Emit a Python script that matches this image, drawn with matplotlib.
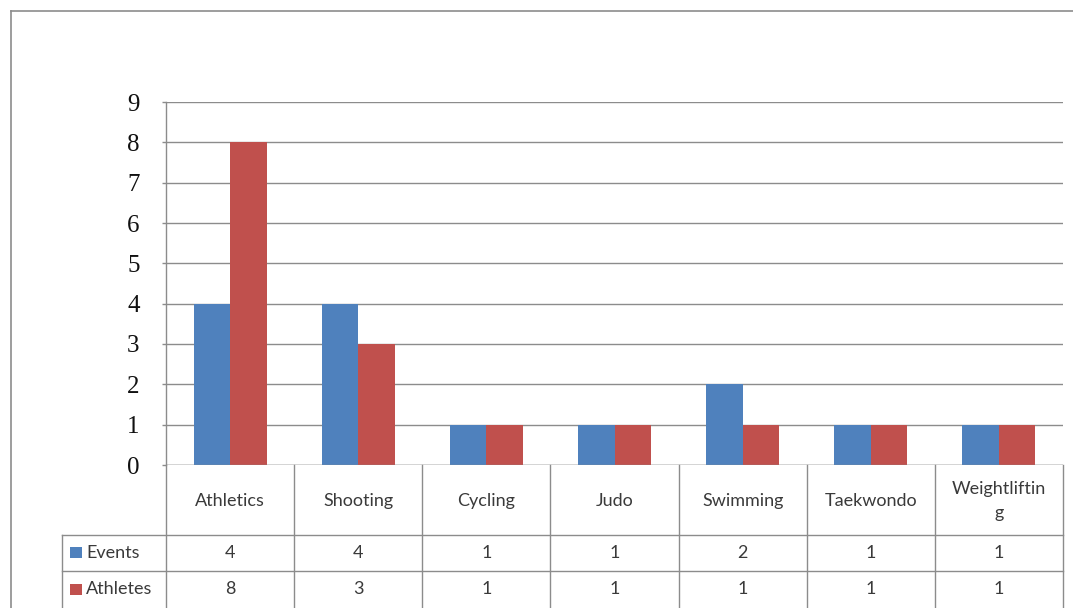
import matplotlib
matplotlib.use("Agg")
import matplotlib.pyplot as plt
from matplotlib.transforms import blended_transform_factory
from matplotlib.patches import Rectangle

# Data
categories = ["Athletics", "Shooting", "Cycling", "Judo", "Swimming", "Taekwondo", "Weightlifting"]
header_labels = ["Athletics", "Shooting", "Cycling", "Judo", "Swimming", "Taekwondo", "Weightliftin\ng"]
series_names = ["Events", "Athletes"]
events = [4, 4, 1, 1, 2, 1, 1]
athletes = [8, 3, 1, 1, 1, 1, 1]
y_ticks = [0, 1, 2, 3, 4, 5, 6, 7, 8, 9]

series_values = [events, athletes]
series_colors = ["#4F81BD", "#C0504D"]
line_color = "#8C8C8C"
text_color = "#3A3A3A"
table_font = "Lato"
table_size = 13

W, H = 1073, 608
fig = plt.figure(figsize=(W / 100, H / 100), dpi=100)
fig.patch.set_facecolor("white")

# Plot area (pixel geometry)
px_left, px_right, px_top, px_bottom = 166, 1063, 102, 465
ax = fig.add_axes([px_left / W, (H - px_bottom) / H,
                   (px_right - px_left) / W, (px_bottom - px_top) / H])

n = len(categories)
bar_w = 0.285
xs = list(range(n))
for k, (vals, col) in enumerate(zip(series_values, series_colors)):
    offs = (k - 0.5) * bar_w
    ax.bar([x + offs for x in xs], vals, width=bar_w, color=col,
           edgecolor="none", zorder=3, label=series_names[k])

ax.set_xlim(-0.5, n - 0.5)
ax.set_ylim(0, max(y_ticks))
ax.set_yticks(y_ticks)
ax.set_yticklabels([str(t) for t in y_ticks], fontfamily="Liberation Serif",
                   fontsize=18, color="#111111")
ax.set_xticks([])
ax.yaxis.grid(True, color=line_color, linewidth=1.0, zorder=0)
ax.tick_params(axis="y", length=3, width=1.0, color=line_color, pad=16)
for side in ["top", "right", "bottom"]:
    ax.spines[side].set_visible(False)
ax.spines["left"].set_color(line_color)
ax.spines["left"].set_linewidth(1.0)
ax.set_facecolor("white")

# Overlay in pixel coordinates for the frame and data table
ov = fig.add_axes([0, 0, 1, 1])
ov.set_xlim(0, W)
ov.set_ylim(H, 0)
ov.axis("off")
ov.patch.set_visible(False)
mix = blended_transform_factory(ax.transData, ov.transData)

# Outer chart frame
ov.plot([11, 11], [11, H], color=line_color, lw=1.2, clip_on=False)
ov.plot([11, W], [11, 11], color=line_color, lw=1.2, clip_on=False)

# Table rows (pixel y)
row_header = (465, 535)
row_events = (535, 571)
row_athletes = (571, 608)
label_left = 62

# Baseline across the plot
ax.axhline(0, color=line_color, lw=1.0, zorder=4)

# Column separators
for i in range(n + 1):
    ov.plot([i - 0.5, i - 0.5], [row_header[0], H], color=line_color, lw=1.0,
            transform=mix, clip_on=False)
# Horizontal row lines
for y in [row_events[0], row_athletes[0]]:
    ov.plot([label_left, px_right], [y, y], color=line_color, lw=1.0, clip_on=False)
ov.plot([label_left, label_left], [row_events[0], H], color=line_color, lw=1.0, clip_on=False)

# Header labels
for i, lab in enumerate(header_labels):
    ov.text(i, sum(row_header) / 2 + 1, lab, transform=mix, ha="center", va="center",
            fontfamily=table_font, fontsize=table_size, color=text_color, linespacing=1.6)

# Series rows
for rows, name, vals, col in zip([row_events, row_athletes], series_names,
                                 series_values, series_colors):
    yc = sum(rows) / 2
    ov.add_patch(Rectangle((70, yc - 6), 12, 11, facecolor=col, edgecolor="none"))
    ov.text(86, yc, name, ha="left", va="center", fontfamily=table_font,
            fontsize=table_size, color=text_color)
    for i, v in enumerate(vals):
        ov.text(i, yc, str(v), transform=mix, ha="center", va="center",
                fontfamily=table_font, fontsize=table_size, color=text_color)

fig.savefig("out.png", dpi=100)
